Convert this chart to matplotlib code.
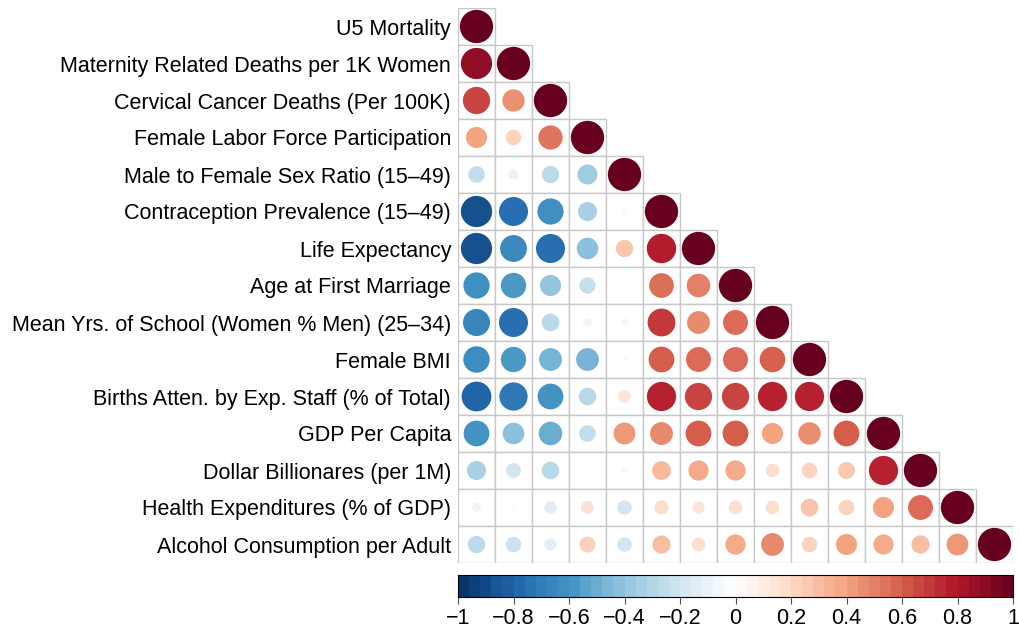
import numpy as np
import matplotlib
matplotlib.use("Agg")
import matplotlib.pyplot as plt
from matplotlib.colors import LinearSegmentedColormap, Normalize
from matplotlib.patches import Circle, Rectangle

plt.rcParams['font.family'] = ['Liberation Sans', 'DejaVu Sans']

labels = [
    "U5 Mortality",
    "Maternity Related Deaths per 1K Women",
    "Cervical Cancer Deaths (Per 100K)",
    "Female Labor Force Participation",
    "Male to Female Sex Ratio (15\u201349)",
    "Contraception Prevalence (15\u201349)",
    "Life Expectancy",
    "Age at First Marriage",
    "Mean Yrs. of School (Women % Men) (25\u201334)",
    "Female BMI",
    "Births Atten. by Exp. Staff (% of Total)",
    "GDP Per Capita",
    "Dollar Billionares (per 1M)",
    "Health Expenditures (% of GDP)",
    "Alcohol Consumption per Adult",
]

# lower triangle of the correlation matrix, row by row
corr_rows = [
    [1.0],
    [0.88, 1.0],
    [0.67, 0.45, 1.0],
    [0.40, 0.22, 0.53, 1.0],
    [-0.25, -0.10, -0.27, -0.36, 1.0],
    [-0.88, -0.76, -0.62, -0.33, 0.04, 1.0],
    [-0.88, -0.65, -0.76, -0.42, 0.27, 0.78, 1.0],
    [-0.62, -0.58, -0.40, -0.24, 0.01, 0.55, 0.50, 1.0],
    [-0.66, -0.76, -0.28, -0.07, -0.06, 0.70, 0.47, 0.56, 1.0],
    [-0.63, -0.58, -0.47, -0.47, 0.03, 0.60, 0.56, 0.56, 0.59, 1.0],
    [-0.80, -0.72, -0.60, -0.28, 0.15, 0.77, 0.67, 0.67, 0.77, 0.77, 1.0],
    [-0.60, -0.42, -0.50, -0.25, 0.43, 0.47, 0.60, 0.60, 0.40, 0.46, 0.60, 1.0],
    [-0.33, -0.20, -0.28, -0.005, 0.04, 0.32, 0.37, 0.37, 0.17, 0.22, 0.26, 0.77, 1.0],
    [-0.08, 0.02, -0.14, 0.16, -0.19, 0.18, 0.14, 0.17, 0.17, 0.28, 0.22, 0.40, 0.56, 1.0],
    [-0.27, -0.22, -0.13, 0.23, -0.19, 0.30, 0.17, 0.37, 0.47, 0.22, 0.40, 0.37, 0.30, 0.43, 1.0],
]

cbar_ticks = [-1, -0.8, -0.6, -0.4, -0.2, 0, 0.2, 0.4, 0.6, 0.8, 1]

palette = ["#053061", "#2166AC", "#4393C3", "#92C5DE", "#D1E5F0", "#FFFFFF",
           "#FDDBC7", "#F4A582", "#D6604D", "#B2182B", "#67001F"]
cmap = LinearSegmentedColormap.from_list("corr", palette, N=200)
norm = Normalize(-1, 1)

fig = plt.figure(figsize=(10.2, 6.35), dpi=100)
ax = fig.add_axes([458 / 1020, 72 / 635, 555 / 1020, 555 / 635])
n = len(labels)

for i, row in enumerate(corr_rows):
    for j, r in enumerate(row):
        y = n - 1 - i
        ax.add_patch(Rectangle((j, y), 1, 1, facecolor="white",
                               edgecolor="#c8c8c8", lw=1.0, zorder=1))
        rad = 0.45 * np.sqrt(abs(r))
        ax.add_patch(Circle((j + 0.5, y + 0.5), rad, facecolor=cmap(norm(r)),
                            edgecolor="none", zorder=2))

ax.set_xlim(0, n)
ax.set_ylim(0, n)
ax.set_aspect("equal")
ax.set_yticks(np.arange(n) + 0.5)
ax.set_yticklabels(labels[::-1], fontsize=15.5)
ax.tick_params(axis="y", length=0, pad=5)
ax.set_xticks([])
for s in ax.spines.values():
    s.set_visible(False)

# colour legend
cax = fig.add_axes([458 / 1020, 38 / 635, 555 / 1020, 22 / 635])
edges = np.linspace(-1, 1, 51)
mids = (edges[:-1] + edges[1:]) / 2
cax.pcolormesh(edges, [0, 1], mids[None, :], cmap=cmap, norm=norm)
cax.set_xlim(-1, 1)
cax.set_ylim(0, 1)
cax.set_yticks([])
cax.set_xticks(cbar_ticks)
tick_text = [f"{t:g}".replace("-", "\u2212") for t in cbar_ticks]
cax.set_xticklabels(tick_text, fontsize=15.5)
cax.tick_params(axis="x", direction="out", length=5, width=0.8, color="#555555", pad=3)
for s in cax.spines.values():
    s.set_linewidth(0.8)

fig.savefig("out.png", dpi=100)
